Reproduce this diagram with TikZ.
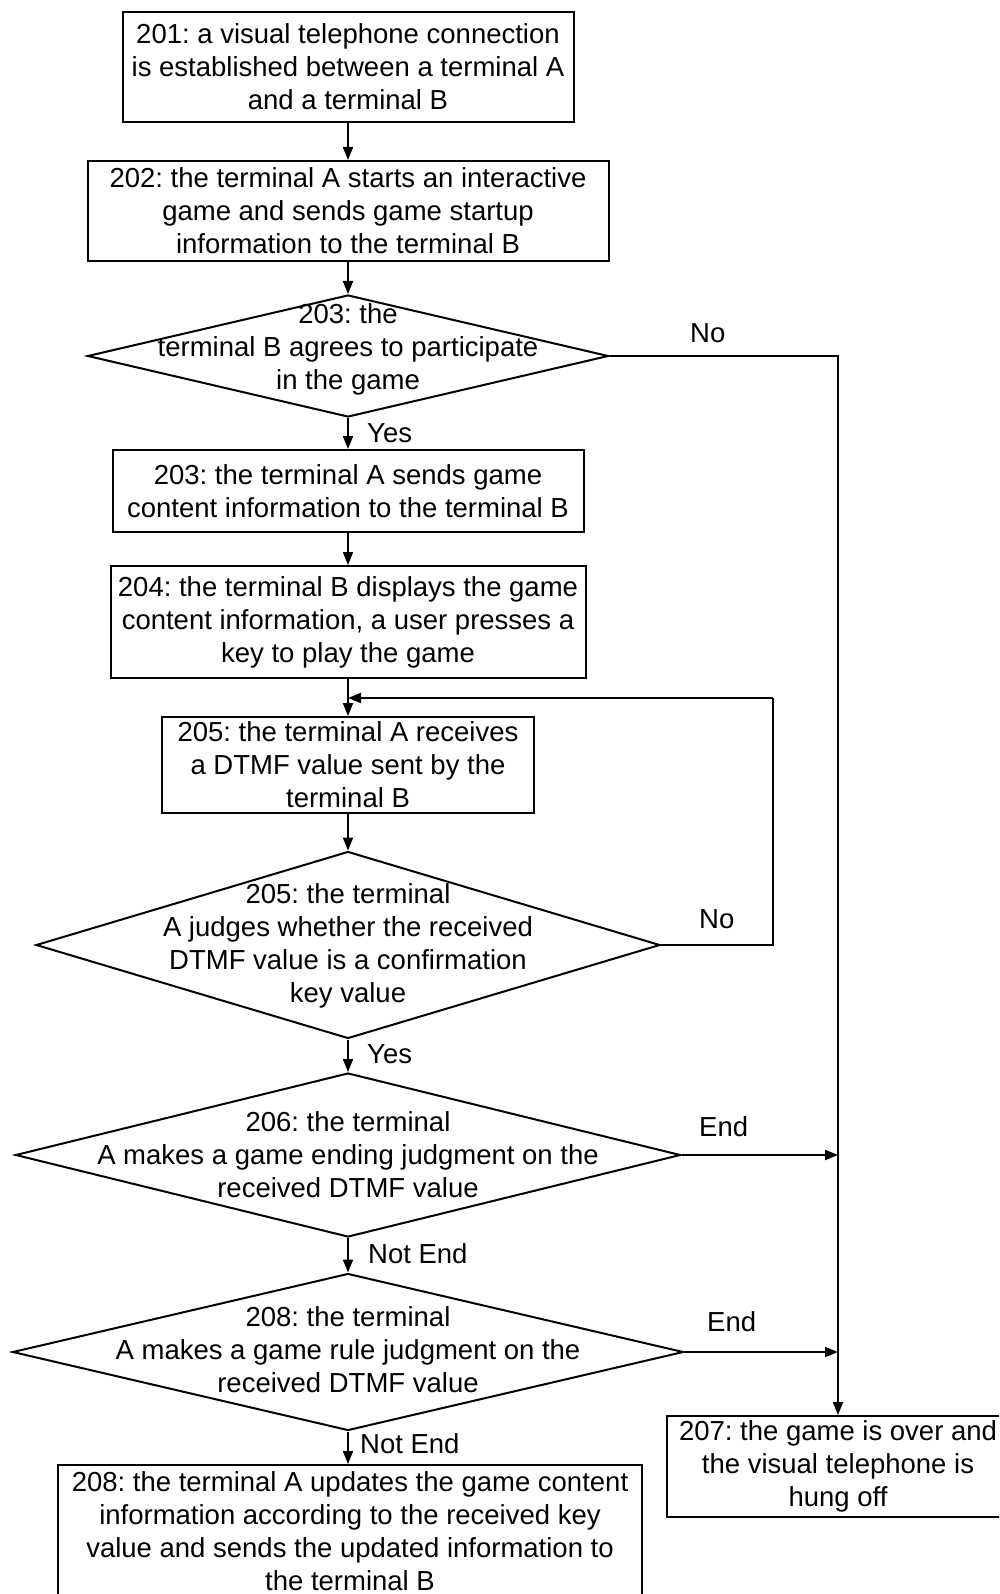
\documentclass[tikz,border=0pt]{standalone}
\usepackage{fontspec}
\setmainfont{Liberation Sans}
\usetikzlibrary{shapes.geometric,arrows.meta}
\frenchspacing
\begin{document}
\begin{tikzpicture}[x=1pt,y=-1pt,
  every node/.style={font=\fontsize{27.5}{33}\selectfont\frenchspacing},
  box/.style={draw, line width=2pt, inner sep=0pt, align=center},
  dia/.style={draw, diamond, line width=2pt, inner sep=0pt},
  txt/.style={align=center, inner sep=0pt},
  lbl/.style={inner sep=0pt, anchor=base west},
  conn/.style={line width=2pt},
  arr/.style={conn, -{Triangle[length=13pt,width=10pt]}}]
\useasboundingbox (0,0) rectangle (999,1594);
\fill[white] (0,0) rectangle (999,1594);
\clip (0,0) rectangle (999,1594);

\node[box, minimum width=451pt, minimum height=110pt] (b201) at (348,67)
  {201: a visual telephone connection\\is established between a terminal A\\and a terminal B};
\node[box, minimum width=521pt, minimum height=100pt] (b202) at (348,211)
  {202: the terminal A starts an interactive\\game and sends game startup\\information to the terminal B};
\node[dia, minimum width=521pt, minimum height=122pt] (d203) at (348,356) {};
\node[txt] (t203) at (348,349) {203: the\\terminal B agrees to participate\\in the game};
\node[box, minimum width=471pt, minimum height=82pt] (b203) at (348,491)
  {203: the terminal A sends game\\content information to the terminal B};
\node[box, minimum width=475pt, minimum height=112pt] (b204) at (348,622)
  {204: the terminal B displays the game\\content information, a user presses a\\key to play the game};
\node[box, minimum width=372pt, minimum height=96pt] (b205) at (348,765)
  {205: the terminal A receives\\a DTMF value sent by the\\terminal B};
\node[dia, minimum width=624pt, minimum height=187pt] (d205) at (348,945) {};
\node[txt] (t205) at (348,946) {205: the terminal\\A judges whether the received\\DTMF value is a confirmation\\key value};
\node[dia, minimum width=665pt, minimum height=164pt] (d206) at (348,1155) {};
\node[txt] (t206) at (348,1155) {206: the terminal\\A makes a game ending judgment on the\\received DTMF value};
\node[dia, minimum width=671pt, minimum height=157pt] (d208) at (348,1352) {};
\node[txt] (t208) at (348,1350) {208: the terminal\\A makes a game rule judgment on the\\received DTMF value};
\node[box, minimum width=584pt, minimum height=132pt] (b208) at (350,1531)
  {208: the terminal A updates the game content\\information according to the received key\\value and sends the updated information to\\the terminal B};
\node[box, minimum width=342pt, minimum height=101pt] (b207) at (838,1466.5)
  {207: the game is over and\\the visual telephone is\\hung off};

\draw[arr] (b201.south) -- (b202.north);
\draw[arr] (b202.south) -- (d203.north);
\draw[arr] (d203.south) -- (b203.north);
\draw[arr] (b203.south) -- (b204.north);
\draw[arr] (b204.south) -- (b205.north);
\draw[arr] (b205.south) -- (d205.north);
\draw[arr] (d205.south) -- (d206.north);
\draw[arr] (d206.south) -- (d208.north);
\draw[arr] (d208.south) -- (d208.south |- b208.north);

\draw[arr] (d203.east) -| (b207.north);
\draw[arr] (d206.east) -- (d206.east -| b207.north);
\draw[arr] (d208.east) -- (d208.east -| b207.north);

\coordinate (lp) at (773,698);
\draw[conn] (d205.east) -| (lp);
\draw[arr] (lp) -- (lp -| b204.south);

\node[lbl] (lno1) at (690,342) {No};
\node[lbl] (lyes1) at (367,442) {Yes};
\node[lbl] (lno2) at (699,928) {No};
\node[lbl] (lyes2) at (367,1063) {Yes};
\node[lbl] (lend1) at (699,1136) {End};
\node[lbl] (lne1) at (368,1263) {Not End};
\node[lbl] (lend2) at (707,1331) {End};
\node[lbl] (lne2) at (360,1453) {Not End};
\end{tikzpicture}
\end{document}
